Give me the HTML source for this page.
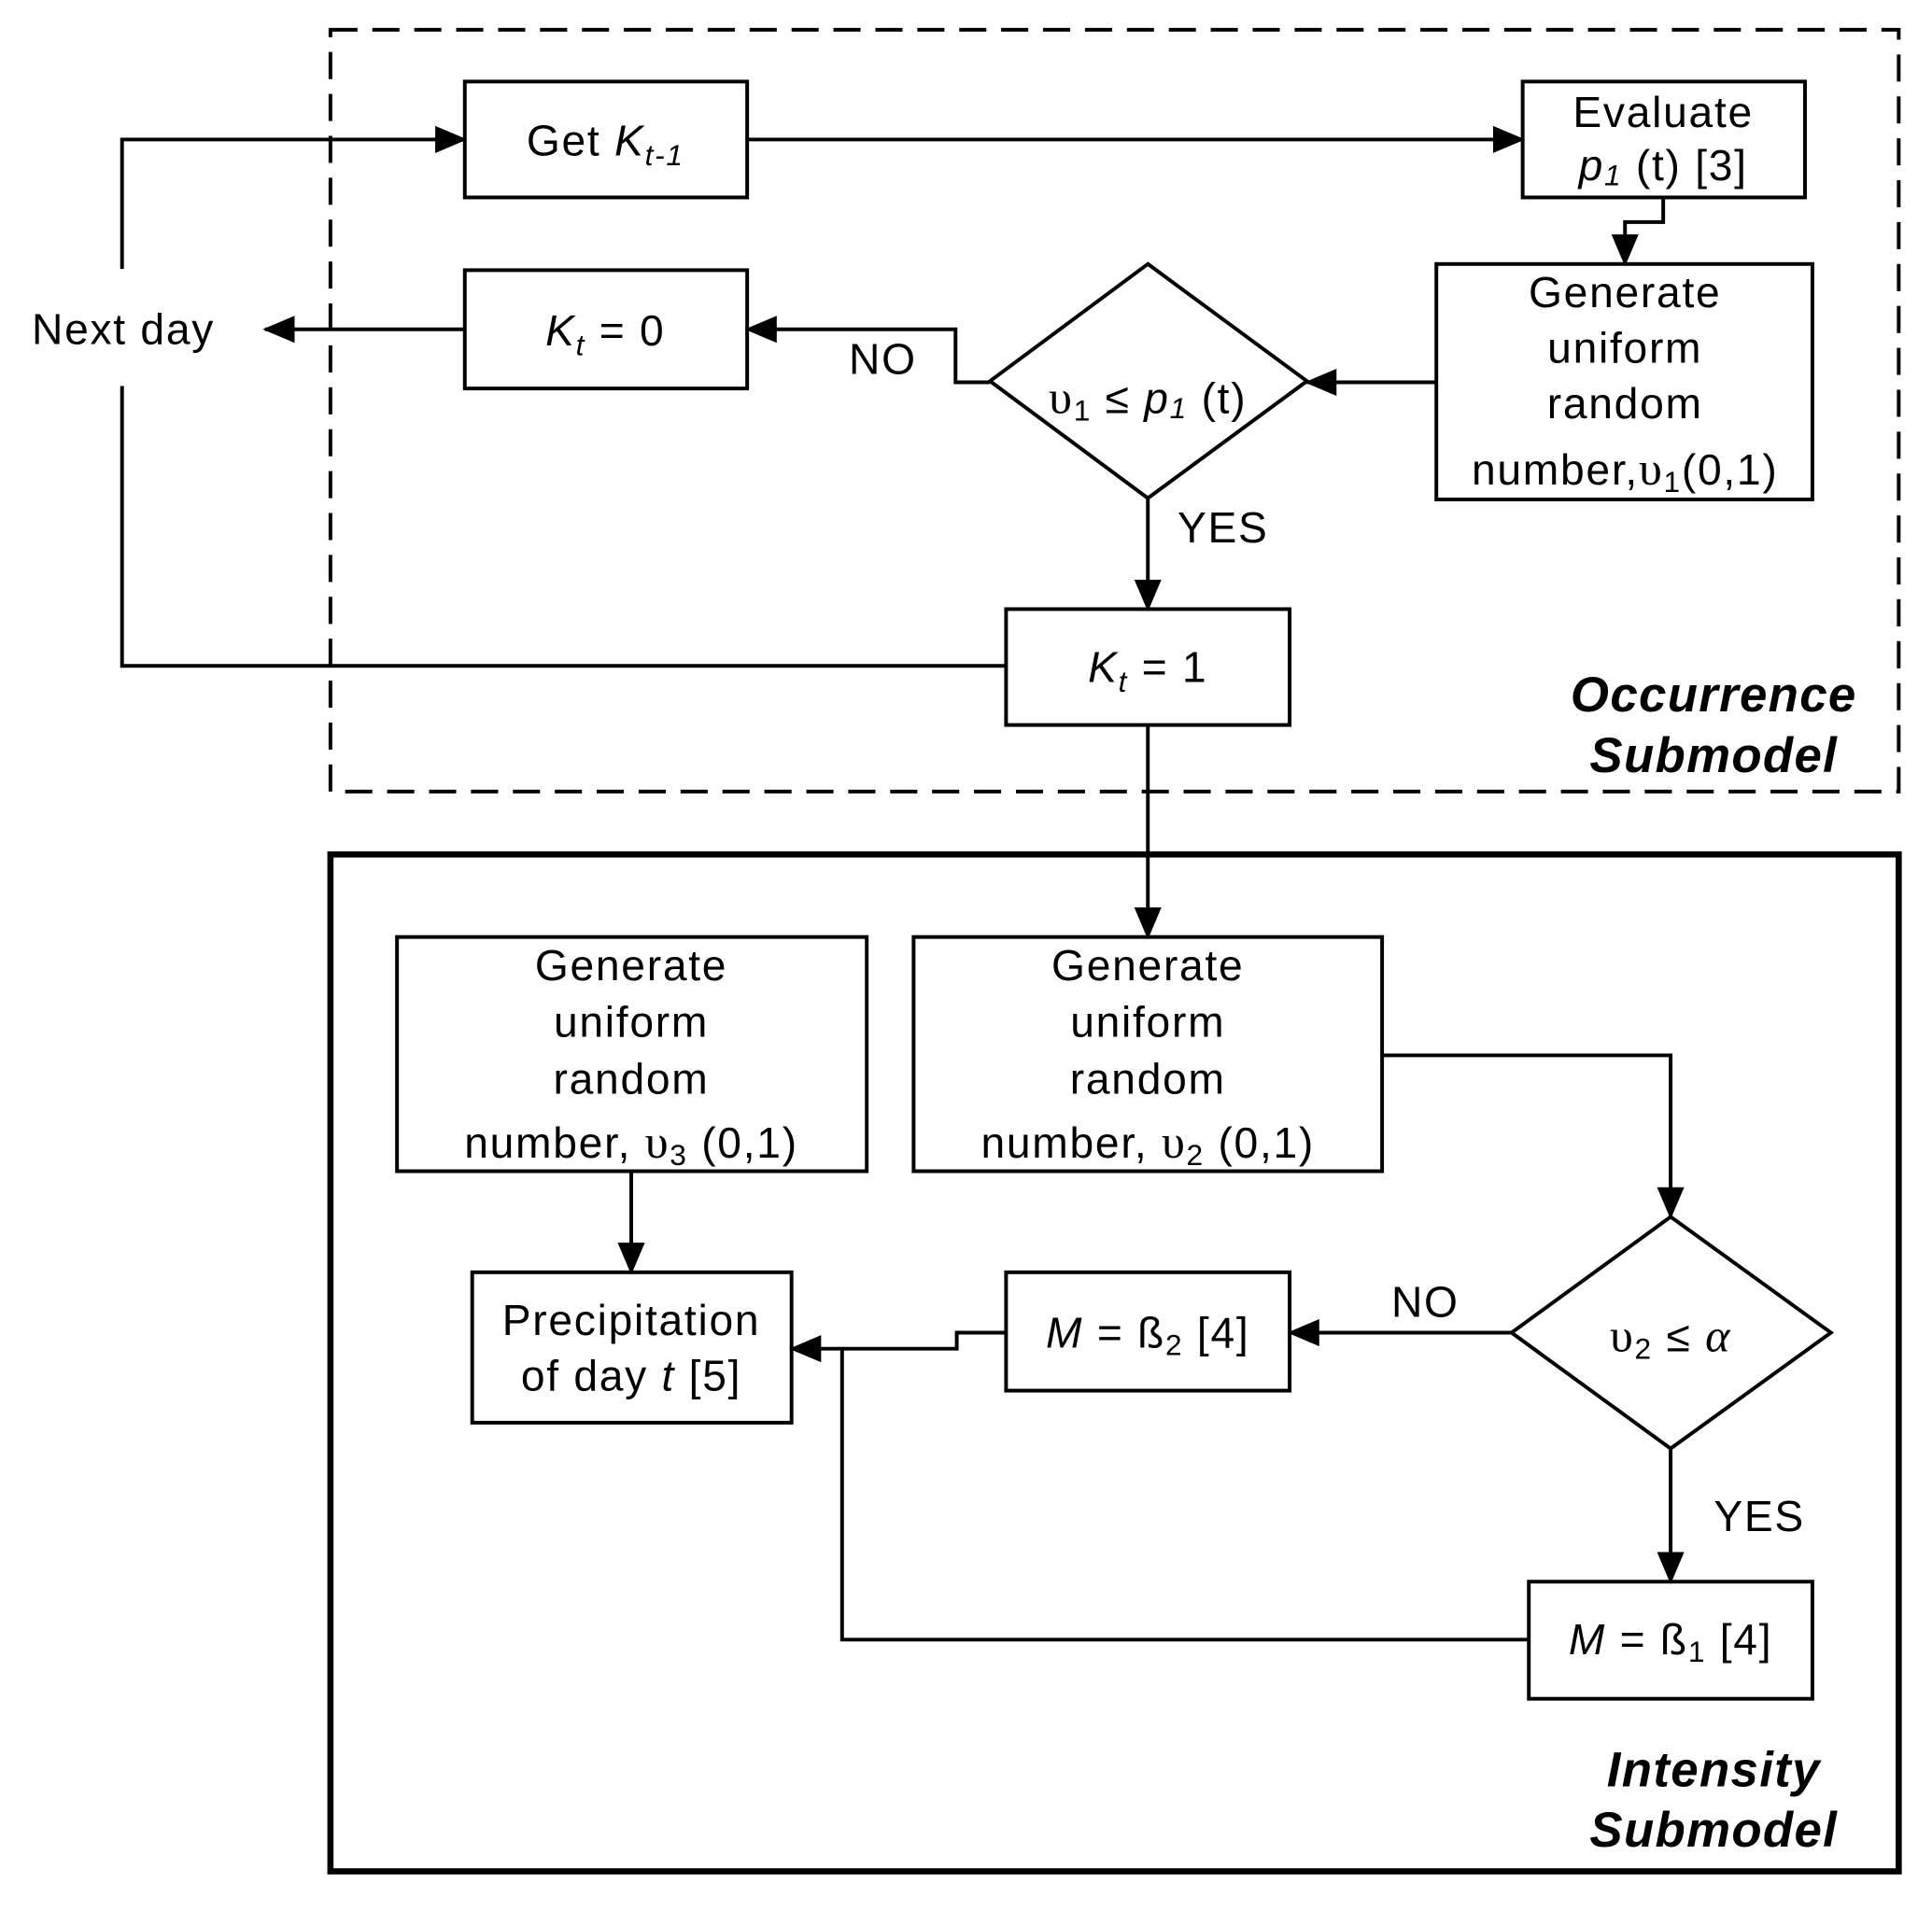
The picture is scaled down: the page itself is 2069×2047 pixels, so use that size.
<!DOCTYPE html>
<html><head><meta charset="utf-8"><style>
html,body{margin:0;padding:0;background:#fff;}
svg{display:block;}
text{font-family:"Liberation Sans",sans-serif;font-size:35px;letter-spacing:1.3px;fill:#000;}
.b{font-weight:bold;font-style:italic;font-size:40px;letter-spacing:1px;}
.i{font-style:italic;}
.g{font-family:"Liberation Serif",serif;font-size:38px;}
</style></head><body>
<svg width="2069" height="2047" viewBox="0 0 1567 1550" xmlns="http://www.w3.org/2000/svg">
<defs>
<marker id="a" markerUnits="userSpaceOnUse" markerWidth="26" markerHeight="22" refX="24" refY="11" orient="auto">
<path d="M0,0 L26,11 L0,22 Z" fill="#000"/></marker>
</defs>
<g fill="none" stroke="#000">
<rect x="268" y="24" width="1272" height="618" stroke-width="3" stroke-dasharray="22,12"/>
<rect x="268" y="693" width="1272" height="825" stroke-width="5"/>
<g stroke-width="3">
<rect x="377" y="66" width="229" height="94"/>
<rect x="1235" y="66" width="229" height="94"/>
<rect x="1165" y="214" width="305" height="191"/>
<rect x="377" y="219" width="229" height="96"/>
<polygon points="931,214 1060,309 931,404 803,309"/>
<rect x="816" y="494" width="230" height="94"/>
<rect x="322" y="760" width="381" height="190"/>
<rect x="741" y="760" width="380" height="190"/>
<rect x="383" y="1032" width="259" height="122"/>
<rect x="816" y="1032" width="230" height="96"/>
<polygon points="1355,987 1485,1081 1355,1175 1226,1081"/>
<rect x="1240" y="1283" width="230" height="95"/>
<polyline points="99,218 99,113 377,113" marker-end="url(#a)"/>
<polyline points="606,113 1235,113" marker-end="url(#a)"/>
<polyline points="1349,160 1349,180 1318,180 1318,214" marker-end="url(#a)"/>
<polyline points="1165,310 1060,310" marker-end="url(#a)"/>
<polyline points="803,310 775,310 775,267 606,267" marker-end="url(#a)"/>
<polyline points="377,267 215,267" marker-end="url(#a)"/>
<polyline points="931,404 931,494" marker-end="url(#a)"/>
<polyline points="816,540 99,540 99,313"/>
<polyline points="931,588 931,760" marker-end="url(#a)"/>
<polyline points="1121,856 1355,856 1355,987" marker-end="url(#a)"/>
<polyline points="1226,1081 1046,1081" marker-end="url(#a)"/>
<polyline points="1355,1175 1355,1283" marker-end="url(#a)"/>
<polyline points="1240,1330 683,1330 683,1094 642,1094" marker-end="url(#a)"/>
<polyline points="816,1081 776,1081 776,1094 683,1094"/>
<polyline points="512,950 512,1032" marker-end="url(#a)"/>
</g></g>
<g text-anchor="middle">
<text x="100" y="279">Next day</text>
<text x="491" y="126">Get <tspan class="i">K<tspan font-size="24" dy="8">t-1</tspan></tspan></text>
<text x="1349" y="103">Evaluate</text>
<text x="1349" y="146"><tspan class="i">p<tspan font-size="24" dy="4">1</tspan></tspan><tspan dy="-4"> (t) [3]</tspan></text>
<text x="1318" y="249">Generate</text>
<text x="1318" y="294">uniform</text>
<text x="1318" y="339">random</text>
<text x="1318" y="393">number,<tspan class="g">υ</tspan><tspan font-size="24" dy="6">1</tspan><tspan dy="-6">(0,1)</tspan></text>
<text x="491" y="280"><tspan class="i">K<tspan font-size="24" dy="8">t</tspan></tspan><tspan dy="-8"> = 0</tspan></text>
<text x="716" y="303">NO</text>
<text x="931" y="335"><tspan class="g">υ</tspan><tspan font-size="24" dy="6">1</tspan><tspan dy="-6"> ≤ </tspan><tspan class="i">p<tspan font-size="24" dy="4">1</tspan></tspan><tspan dy="-4"> (t)</tspan></text>
<text x="992" y="440">YES</text>
<text x="931" y="553"><tspan class="i">K<tspan font-size="24" dy="8">t</tspan></tspan><tspan dy="-8"> = 1</tspan></text>
<text x="1390" y="577" class="b">Occurrence</text>
<text x="1390" y="626" class="b">Submodel</text>
<text x="512" y="795">Generate</text>
<text x="512" y="841">uniform</text>
<text x="512" y="887">random</text>
<text x="512" y="939">number, <tspan class="g">υ</tspan><tspan font-size="24" dy="6">3</tspan><tspan dy="-6"> (0,1)</tspan></text>
<text x="931" y="795">Generate</text>
<text x="931" y="841">uniform</text>
<text x="931" y="887">random</text>
<text x="931" y="939">number, <tspan class="g">υ</tspan><tspan font-size="24" dy="6">2</tspan><tspan dy="-6"> (0,1)</tspan></text>
<text x="512" y="1083">Precipitation</text>
<text x="512" y="1128">of day <tspan class="i">t</tspan> [5]</text>
<text x="931" y="1093"><tspan class="i">M</tspan> = ß<tspan font-size="24" dy="6">2</tspan><tspan dy="-6"> [4]</tspan></text>
<text x="1156" y="1068">NO</text>
<text x="1355" y="1096"><tspan class="g">υ</tspan><tspan font-size="24" dy="6">2</tspan><tspan dy="-6">  ≤ </tspan><tspan class="g i">α</tspan></text>
<text x="1427" y="1242">YES</text>
<text x="1355" y="1342"><tspan class="i">M</tspan> = ß<tspan font-size="24" dy="6">1</tspan><tspan dy="-6"> [4]</tspan></text>
<text x="1390" y="1449" class="b">Intensity</text>
<text x="1390" y="1498" class="b">Submodel</text>
</g>
</svg>
</body></html>
